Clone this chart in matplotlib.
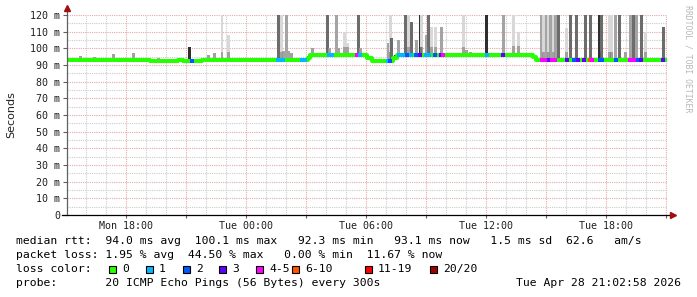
import numpy as np
import matplotlib

matplotlib.use("Agg")
import matplotlib.pyplot as plt
from matplotlib.patches import Rectangle

# time in hours since Mon 00:00
T_START = 15.05
T_END = 45.05

# median rtt (ms), step changes
med_hour = [15.05, 16.1, 16.7, 19.2, 20.6, 20.85, 21.8, 27.1, 27.2, 30.05, 30.3,
            31.35, 31.55, 36.0, 38.35, 38.5, 45.05]
med_ms = [93.2, 92.9, 93.2, 92.2, 93.0, 92.2, 93.0, 94.5, 96.0, 94.0, 92.5,
          94.5, 96.0, 96.3, 95.0, 92.8, 92.8]

# packet loss per step: hour, loss colour index
loss_hour = [21.3, 25.6, 25.75, 25.85, 26.8, 26.95, 28.15, 28.3, 29.55, 29.7,
             31.1, 31.2, 31.65, 31.85, 32.05, 32.25, 32.5, 32.7, 33.0, 33.15,
             33.45, 33.75, 33.85, 36.05, 36.85, 38.8, 38.95, 39.15, 39.3, 39.45,
             40.05, 40.4, 40.6, 40.9, 41.2, 41.3, 41.7, 41.8, 42.5, 43.2, 43.4,
             43.6, 43.75, 44.85]
loss_idx = [2, 1, 1, 1, 1, 1, 1, 1, 4, 1,
            1, 2, 1, 1, 2, 1, 2, 3, 1, 1,
            2, 3, 4, 1, 3, 4, 4, 3, 4, 4,
            3, 2, 3, 3, 5, 4, 2, 2, 2, 4, 4,
            2, 3, 3]
loss_colors = ["#26ff00", "#00b8ff", "#0059ff", "#5e00ff", "#ff00ff",
               "#ff5500", "#ff0000", "#a10000"]
loss_labels = ["0", "1", "2", "3", "4-5", "6-10", "11-19", "20/20"]

# smoke: hour, top of ping spread (ms), shade
smoke_hour = [15.75, 16.45, 17.35, 18.35, 19.6, 21.2, 22.1, 22.45, 22.8, 23.1,
              25.6, 25.75, 25.85, 26.0, 26.1, 26.25, 27.1, 27.3, 28.05, 28.15,
              28.5, 28.6, 28.9, 29.05, 29.6, 29.7, 30.25, 31.1, 31.2, 31.25,
              31.45, 31.6, 31.95, 32.1, 32.25, 32.5, 32.7, 32.8, 33.0, 33.15,
              33.3, 33.45, 33.8, 34.85, 35.0, 35.2, 36.0, 36.85, 37.35, 37.6,
              38.45, 38.8, 38.9, 39.0, 39.1, 39.2, 39.35, 39.45, 39.6, 40.05,
              40.2, 40.55, 40.95, 41.2, 41.65, 41.8, 42.15, 42.3, 42.45, 42.65,
              42.95, 43.2, 43.35, 43.55, 43.8, 43.95, 44.85]
smoke_top = [95.5, 95, 96.5, 97.5, 94, 101, 96, 97, 120, 108,
             120, 120, 98.5, 120, 98.5, 97, 95.5, 100, 120, 100,
             120, 100, 110, 103, 120, 100, 95, 103, 120, 106,
             96, 105, 120, 120, 116, 105, 120, 120, 108, 120,
             113, 113, 113, 120, 99, 98, 120, 120, 120, 110,
             95.5, 120, 120, 120, 120, 120, 120, 120, 120, 112,
             120, 120, 120, 120, 120, 120, 120, 120, 120, 120,
             98, 120, 120, 120, 120, 110, 113]
smoke_shade = ["l", "l", "l", "l", "l", "k", "l", "l", "l", "l",
               "d", "l", "m", "m", "m", "l", "k", "l", "d", "m",
               "m", "m", "l", "l", "d", "m", "k", "m", "l", "d",
               "k", "m", "d", "l", "d", "m", "k", "l", "m", "d",
               "l", "l", "m", "l", "l", "l", "k", "m", "l", "l",
               "k", "m", "l", "m", "l", "m", "l", "m", "d", "l",
               "d", "d", "d", "d", "k", "d", "l", "l", "m", "d",
               "l", "m", "d", "m", "d", "l", "d"]
SHADES = {"l": "#d8d8d8", "m": "#a4a4a4", "d": "#6c6c6c", "k": "#2e2e2e"}

xtick_hours = [18, 24, 30, 36, 42]
xtick_labels = ["Mon 18:00", "Tue 00:00", "Tue 06:00", "Tue 12:00", "Tue 18:00"]
ytick_vals = list(range(0, 121, 10))
ytick_labels = ["0"] + [f"{v} m" for v in ytick_vals[1:]]

MONO = "DejaVu Sans Mono"
W, H = 697, 297

fig = plt.figure(figsize=(W / 100, H / 100), dpi=100)
ax = fig.add_axes([67 / W, 1 - 215 / H, 600 / W, 200 / H])


def median_at(h):
    i = np.searchsorted(med_hour, h, side="right") - 1
    return np.array(med_ms)[np.clip(i, 0, len(med_ms) - 1)]


# smoke: full spread in the given shade, with a darker core just above the median
sh = np.array(smoke_hour)
tops = np.array(smoke_top)
bottoms = median_at(sh)
ax.bar(sh, tops - bottoms, bottom=bottoms, width=0.15,
       color=[SHADES[s] for s in smoke_shade], linewidth=0, zorder=2)
core = np.minimum(tops, bottoms + 5)
ax.bar(sh, core - bottoms, bottom=bottoms, width=0.15,
       color=[SHADES["d"] if s == "l" else SHADES[s] for s in smoke_shade],
       linewidth=0, zorder=2, alpha=0.5)

# median line
ax.step(med_hour, med_ms, where="post", color=loss_colors[0], lw=2.9, zorder=3,
        solid_capstyle="butt")
lh = np.array(loss_hour)
ax.hlines(median_at(lh), lh - 0.09, lh + 0.09,
          colors=[loss_colors[i] for i in loss_idx], lw=2.9, zorder=4)

ax.set_xlim(T_START, T_END)
ax.set_ylim(0, 120)

# grid
ax.set_xticks(np.arange(18, 46, 3))
ax.set_xticklabels([xtick_labels[xtick_hours.index(h)] if h in xtick_hours else ""
                    for h in range(18, 46, 3)])
ax.set_xticks(np.arange(16, 46, 1), minor=True)
ax.set_yticks(ytick_vals)
ax.set_yticklabels(ytick_labels)
ax.set_yticks(np.arange(5, 120, 10), minor=True)
ax.grid(True, which="major", color="#e8a8a8", lw=0.8, ls=(0, (1, 1)))
ax.grid(True, which="minor", color="#cccccc", lw=0.8, ls=(0, (1, 1)))
ax.set_axisbelow(True)

for s in ax.spines.values():
    s.set_visible(False)
ax.tick_params(which="major", axis="y", length=3, width=0.8, color="#606060", pad=2,
               labelsize=7.2, labelcolor="#202020")
ax.tick_params(which="major", axis="x", length=2, width=0.8, color="#606060", pad=2,
               labelsize=7.2, labelcolor="#202020")
ax.tick_params(which="minor", length=0)
for lab in ax.get_xticklabels() + ax.get_yticklabels():
    lab.set_family(MONO)

# axis lines with arrows
ax.plot([T_START, T_START], [0, 124], color="#606060", lw=0.9, clip_on=False, zorder=5)
ax.plot([T_START - 0.25, T_END + 0.2], [0, 0], color="black", lw=0.9, clip_on=False, zorder=5)
ax.plot([T_START], [124.5], marker="^", ms=4, color="#a01010", clip_on=False, zorder=6)
ax.plot([T_END + 0.28], [0], marker=">", ms=4, color="#a01010", clip_on=False, zorder=6)

fig.text(11 / W, 1 - 115 / H, "Seconds", rotation=90, ha="center", va="center",
         fontsize=8, family="DejaVu Sans", color="#202020")
fig.text(688 / W, 1 - 5 / H, "RRDTOOL / TOBI OETIKER", rotation=270, ha="center",
         va="top", fontsize=5.9, family=MONO, color="#b8b8b8")

# legend
FS = 8.2
fig.text(16 / W, 1 - 241 / H,
         "median rtt:  94.0 ms avg  100.1 ms max   92.3 ms min   93.1 ms now   1.5 ms sd  62.6   am/s",
         fontsize=FS, family=MONO, va="center", color="black")
fig.text(16 / W, 1 - 255 / H,
         "packet loss: 1.95 % avg  44.50 % max   0.00 % min  11.67 % now",
         fontsize=FS, family=MONO, va="center", color="black")
fig.text(16 / W, 1 - 269 / H, "loss color:", fontsize=FS, family=MONO, va="center")
box_x = [109, 146, 183, 219, 256, 292, 365, 430]
for bx, col, lab in zip(box_x, loss_colors, loss_labels):
    fig.patches.append(Rectangle((bx / W, 1 - 272.5 / H), 7 / W, 7 / H, transform=fig.transFigure,
                                 facecolor=col, edgecolor="black", lw=0.8))
    fig.text((bx + 13) / W, 1 - 269 / H, lab, fontsize=FS, family=MONO, va="center")
fig.text(16 / W, 1 - 283 / H, "probe:       20 ICMP Echo Pings (56 Bytes) every 300s",
         fontsize=FS, family=MONO, va="center")
fig.text(681 / W, 1 - 283 / H, "Tue Apr 28 21:02:58 2026", fontsize=FS, family=MONO,
         va="center", ha="right")

fig.savefig("out.png", dpi=100, facecolor="white")
